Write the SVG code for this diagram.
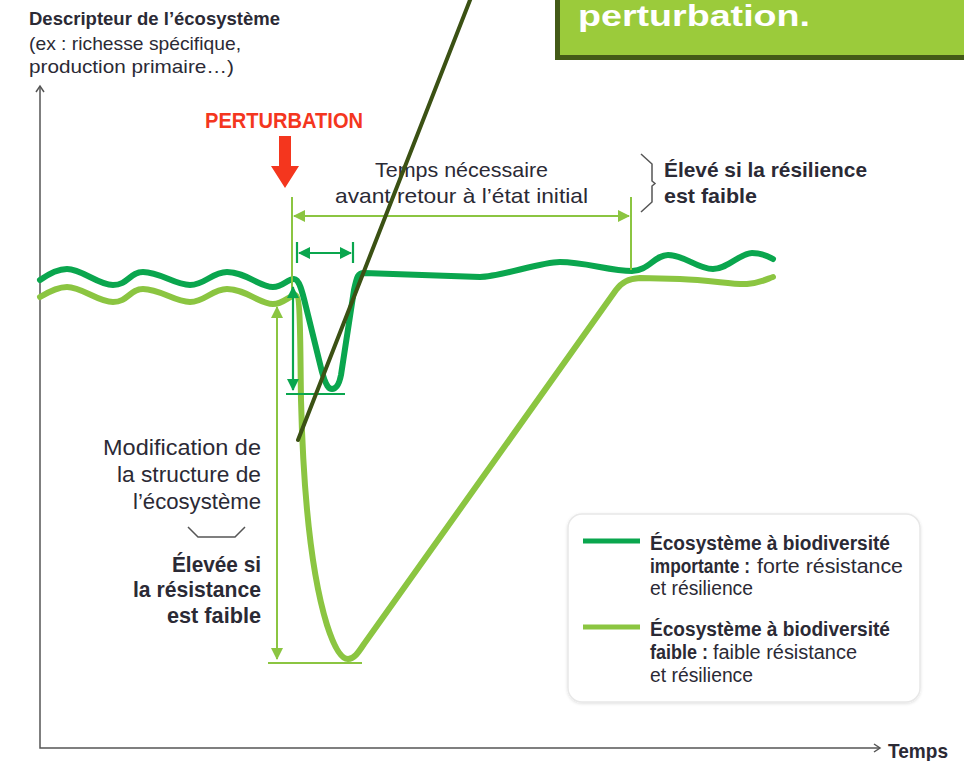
<svg xmlns="http://www.w3.org/2000/svg" width="964" height="761" viewBox="0 0 964 761">
<defs>
<style>
.t{font-family:"Liberation Sans Narrow","Liberation Sans",Arial,sans-serif;fill:#2b2a35}
.b{font-weight:bold}
.axis{fill:none;stroke:#555;stroke-width:1.5}
.dg{fill:none;stroke:#0aa64e;stroke-width:6;stroke-linejoin:round;stroke-linecap:round}
.lg{fill:none;stroke:#8bc541;stroke-width:6;stroke-linejoin:round;stroke-linecap:round}
.mlg{fill:none;stroke:#8bc541;stroke-width:2}
.mdg{fill:none;stroke:#0aa64e;stroke-width:2.2}
.brace{fill:none;stroke:#555;stroke-width:1.5}
</style>
<marker id="al" viewBox="0 0 12 12" refX="11" refY="6" markerWidth="12" markerHeight="12" markerUnits="userSpaceOnUse" orient="auto-start-reverse"><path d="M0,0 L12,6 L0,12 Z" fill="#8bc541"/></marker>
<marker id="ad" viewBox="0 0 12 12" refX="11" refY="6" markerWidth="12" markerHeight="12" markerUnits="userSpaceOnUse" orient="auto-start-reverse"><path d="M0,0 L12,6 L0,12 Z" fill="#0aa64e"/></marker>
<filter id="sh" x="-5%" y="-5%" width="110%" height="115%"><feDropShadow dx="0" dy="1" stdDeviation="1.5" flood-color="#000" flood-opacity="0.12"/></filter>
</defs>
<rect width="964" height="761" fill="#fff"/>

<g id="axes">
<polyline class="axis" points="40,86 40,748 880,748"/>
<polyline class="axis" points="36,92 40,86 44,92"/>
<polyline class="axis" points="874,744 880,748 874,752"/>
<text class="t b" x="29" y="25" font-size="19" textLength="251" lengthAdjust="spacingAndGlyphs">Descripteur de l’écosystème</text>
<text class="t" x="29" y="50" font-size="19" textLength="212" lengthAdjust="spacingAndGlyphs">(ex : richesse spécifique,</text>
<text class="t" x="29" y="73" font-size="19" textLength="205" lengthAdjust="spacingAndGlyphs">production primaire…)</text>
<text class="t b" x="888" y="758" font-size="21" textLength="60" lengthAdjust="spacingAndGlyphs">Temps</text>
</g>

<g id="curves">
<path class="lg" d="M40,297 C50,291 58,287 67,287 C82,287 98,302 113,302 C128,302 130,289 143,289 C160,289 175,302 190,302 C205,302 212,289 227,289 C245,289 260,304 273,304 C283,304 289,296 295,295 C301,295 300,340 301,400 C303,480 310,570 327,625 C335,650 342,659 348,659 C354,659 358,653 364,644 L616,290 C622,282 628,279 640,278 L680,279 C710,280 735,285 747,284 C760,283 767,279 773,277"/>
<path class="dg" d="M40,280 C50,273 58,269 67,269 C82,269 98,285 113,285 C128,285 130,272 143,272 C160,272 175,285 190,285 C205,285 212,272 227,272 C245,272 260,287 273,287 C283,287 287,279 294,279 C300,279 303,295 308,315 L322,372 C326,386 329,389 332,389 C336,389 339,385 341,375 L354,290 C357,276 358,273 364,273 L480,277 C500,277 540,262 560,262 C585,262 610,271 632,271 C648,271 655,255 668,255 C685,255 697,269 713,269 C728,269 740,253 752,253 C762,253 768,256 773,259"/>
</g>

<g id="connectors">
<line class="mlg" x1="292" y1="197" x2="292" y2="293"/>
<line class="mlg" x1="631" y1="197" x2="631" y2="270"/>
<line class="mlg" x1="294" y1="216" x2="629" y2="216" marker-start="url(#al)" marker-end="url(#al)"/>
<line class="mdg" x1="297" y1="242" x2="297" y2="263"/>
<line class="mdg" x1="353" y1="242" x2="353" y2="263"/>
<line class="mdg" x1="299" y1="253" x2="351" y2="253" marker-start="url(#ad)" marker-end="url(#ad)"/>
<line class="mdg" x1="293" y1="287" x2="293" y2="390" marker-start="url(#ad)" marker-end="url(#ad)"/>
<line class="mdg" x1="286" y1="394" x2="345" y2="394"/>
<line class="mlg" x1="277" y1="307" x2="277" y2="659" marker-start="url(#al)" marker-end="url(#al)"/>
<line class="mlg" x1="268" y1="663" x2="362" y2="663"/>
</g>

<g id="perturbation">
<text x="205" y="128" font-family="'Liberation Sans Narrow','Liberation Sans',Arial,sans-serif" font-weight="bold" font-size="22" fill="#f4361e" textLength="158" lengthAdjust="spacingAndGlyphs">PERTURBATION</text>
<path d="M279,136 H291 V166 H299 L285,188 L271,166 H279 Z" fill="#f4361e"/>
</g>

<g id="label-temps">
<text class="t" x="375" y="177" font-size="21" textLength="173" lengthAdjust="spacingAndGlyphs">Temps nécessaire</text>
<text class="t" x="335" y="203" font-size="21" textLength="253" lengthAdjust="spacingAndGlyphs">avant retour à l’état initial</text>
</g>

<g id="label-resilience">
<polyline class="brace" points="641,154 652,164 652,181 655,183.5 652,186 652,202 641,212"/>
<text class="t b" x="664" y="177" font-size="21" textLength="203" lengthAdjust="spacingAndGlyphs">Élevé si la résilience</text>
<text class="t b" x="664" y="203" font-size="21" textLength="93" lengthAdjust="spacingAndGlyphs">est faible</text>
</g>

<g id="label-resistance">
<text class="t" x="103" y="455" font-size="22" textLength="158" lengthAdjust="spacingAndGlyphs">Modification de</text>
<text class="t" x="117" y="482" font-size="22" textLength="144" lengthAdjust="spacingAndGlyphs">la structure de</text>
<text class="t" x="133" y="509" font-size="22" textLength="128" lengthAdjust="spacingAndGlyphs">l’écosystème</text>
<polyline class="brace" points="188,527 198,537 235,537 245,527"/>
<text class="t b" x="172" y="572" font-size="22" textLength="89" lengthAdjust="spacingAndGlyphs">Élevée si</text>
<text class="t b" x="133" y="597" font-size="22" textLength="128" lengthAdjust="spacingAndGlyphs">la résistance</text>
<text class="t b" x="167" y="623" font-size="22" textLength="94" lengthAdjust="spacingAndGlyphs">est faible</text>
</g>

<g id="legend">
<rect x="568" y="514" width="352" height="188" rx="14" fill="#fff" stroke="#e8e8e8" stroke-width="1.5" filter="url(#sh)"/>
<line x1="583" y1="541" x2="640" y2="541" stroke="#0aa64e" stroke-width="5"/>
<text class="t b" x="650" y="550" font-size="20" textLength="240" lengthAdjust="spacingAndGlyphs">Écosystème à biodiversité</text>
<text class="t b" x="650" y="573" font-size="20" textLength="100" lengthAdjust="spacingAndGlyphs">importante :</text>
<text class="t" x="757" y="573" font-size="20" textLength="146" lengthAdjust="spacingAndGlyphs">forte résistance</text>
<text class="t" x="650" y="595" font-size="20" textLength="103" lengthAdjust="spacingAndGlyphs">et résilience</text>
<line x1="583" y1="627" x2="640" y2="627" stroke="#8bc541" stroke-width="5"/>
<text class="t b" x="650" y="636" font-size="20" textLength="240" lengthAdjust="spacingAndGlyphs">Écosystème à biodiversité</text>
<text class="t b" x="650" y="659" font-size="20" textLength="58" lengthAdjust="spacingAndGlyphs">faible :</text>
<text class="t" x="713" y="659" font-size="20" textLength="144" lengthAdjust="spacingAndGlyphs">faible résistance</text>
<text class="t" x="650" y="682" font-size="20" textLength="103" lengthAdjust="spacingAndGlyphs">et résilience</text>
</g>

<g id="callout">
<rect x="557.5" y="-20" width="430" height="77.5" fill="#9bcb3b" stroke="#435a17" stroke-width="5"/>
<text x="578" y="26" font-family="'Gill Sans','Liberation Sans',Arial,sans-serif" font-weight="bold" font-size="30" fill="#fff" textLength="232" lengthAdjust="spacingAndGlyphs">perturbation.</text>
<line x1="472" y1="-5" x2="298" y2="440" stroke="#3b5114" stroke-width="4" stroke-linecap="round"/>
</g>
</svg>
